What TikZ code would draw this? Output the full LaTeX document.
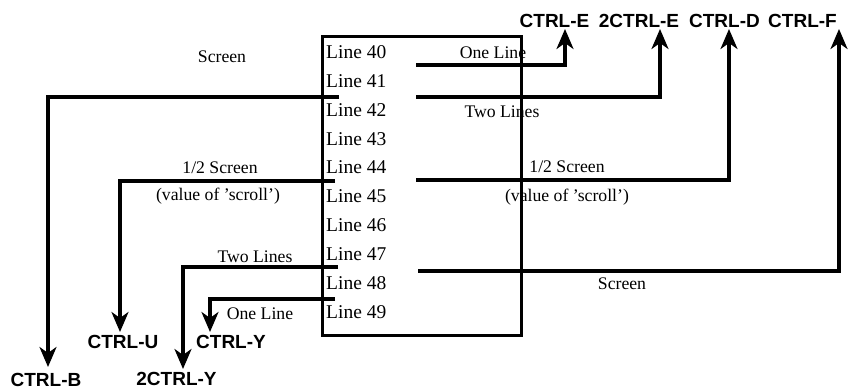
\documentclass[tikz,border=0pt]{standalone}
\usepackage{fontspec}
\setmainfont{Liberation Serif}
\newfontfamily\labsans{Liberation Sans}
\usetikzlibrary{arrows.meta}
\begin{document}
\begin{tikzpicture}[x=1pt,y=-1pt,
  wire/.style={line width=3.2pt},
  arr/.style={wire,-{Stealth[length=20pt,width=17pt,inset=6pt]}},
  linelab/.style={anchor=west,inner sep=0pt,font=\fontsize{19.5}{22}\selectfont},
  note/.style={inner sep=0pt,font=\fontsize{17.7}{20}\selectfont},
  key/.style={inner sep=0pt,font=\labsans\bfseries\fontsize{19}{21}\selectfont}]
\useasboundingbox (0,0) rectangle (850,389);
% screen box
\node[draw,line width=3.2pt,minimum width=199pt,minimum height=299pt,anchor=north west,inner sep=0pt] (box) at (321,35) {};
% line labels
\foreach \n [count=\i from 0] in {40,...,49}
  \node[linelab] (L\n) at (326,{52+28.9*\i}) {Line \n};
% key labels
\node[key] (ce)  at (554.5,21) {CTRL-E};
\node[key] (ce2) at (639,21) {2CTRL-E};
\node[key] (cd)  at (724.5,21) {CTRL-D};
\node[key] (cf)  at (802.5,21) {CTRL-F};
\node[key] (cu)  at (123,342) {CTRL-U};
\node[key] (cy)  at (231,342) {CTRL-Y};
\node[key] (cb)  at (46,380) {CTRL-B};
\node[key] (cy2) at (176.5,379) {2CTRL-Y};
% notes
\node[note] (nScrL)  at (222,57)  {Screen};
\node[note] (nHalfL) at (220,168) {1/2 Screen};
\node[note] (nValL)  at (218,196) {(value of ’scroll’)};
\node[note] (nTwoL)  at (255,257) {Two Lines};
\node[note] (nOneL)  at (260,314) {One Line};
\node[note] (nOneR)  at (493,53)  {One Line};
\node[note] (nTwoR)  at (502,112) {Two Lines};
\node[note] (nHalfR) at (567,167) {1/2 Screen};
\node[note] (nValR)  at (567,197) {(value of ’scroll’)};
\node[note] (nScrR)  at (622,284) {Screen};
% connector coordinates
\coordinate (r40) at (416,65);   \coordinate (tE)  at (565,29);
\coordinate (r41) at (416,97);   \coordinate (tE2) at (660,29);
\coordinate (r44) at (416,180);  \coordinate (tD)  at (729,29);
\coordinate (r48) at (418,271);  \coordinate (tF)  at (839,29);
\coordinate (l41) at (339,97);   \coordinate (tB)  at (48,367);
\coordinate (l44) at (335,181);  \coordinate (tU)  at (120,332);
\coordinate (l47) at (338,267);  \coordinate (tY2) at (183,369);
\coordinate (l48) at (335,299);  \coordinate (tY)  at (210,332);
% connectors
\draw[arr] (r40) -| (tE);
\draw[arr] (r41) -| (tE2);
\draw[arr] (r44) -| (tD);
\draw[arr] (r48) -| (tF);
\draw[arr] (l41) -| (tB);
\draw[arr] (l44) -| (tU);
\draw[arr] (l47) -| (tY2);
\draw[arr] (l48) -| (tY);
\end{tikzpicture}
\end{document}
